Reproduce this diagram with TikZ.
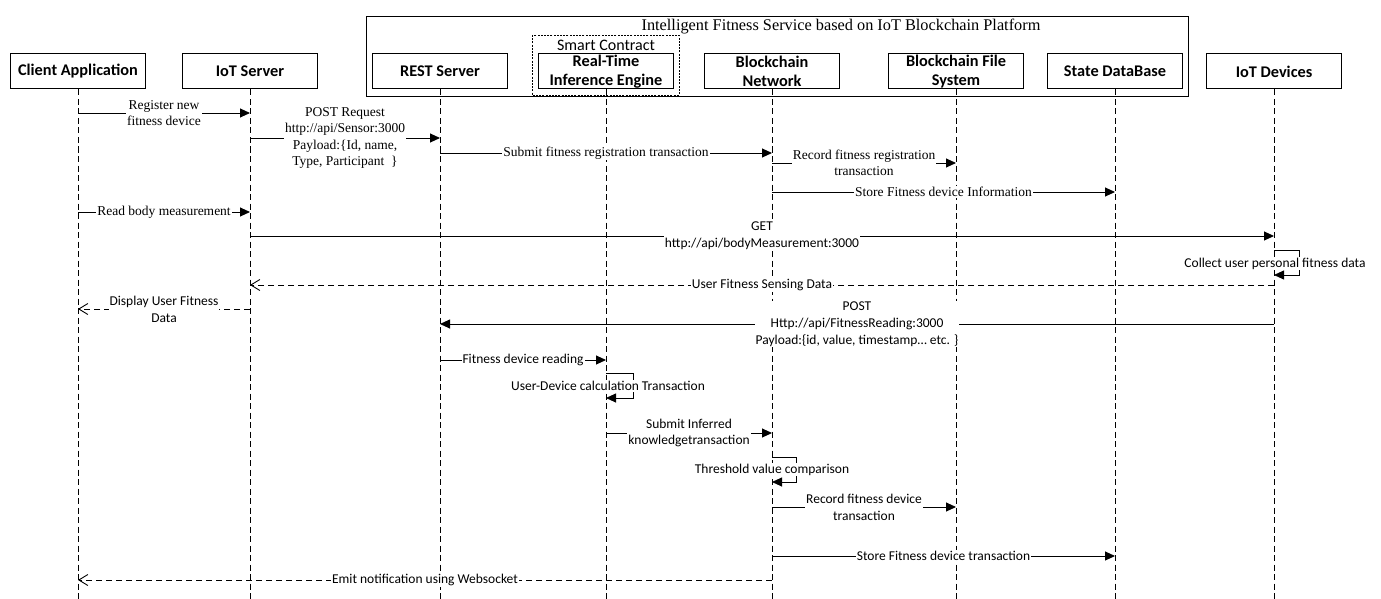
\documentclass[tikz,border=0pt]{standalone}
\usepackage{fontspec}
\setmainfont{Liberation Serif}
\newfontfamily\calibri{Carlito}
\usetikzlibrary{arrows.meta}
\begin{document}
\begin{tikzpicture}[x=1pt,y=-1pt,
  actor/.style={draw, line width=1pt, minimum width=135pt, minimum height=35pt,
    inner sep=0pt, align=center, font=\calibri\bfseries\fontsize{16.3}{18.5}\selectfont},
  lifeline/.style={line width=1pt, dash pattern=on 6pt off 3.5pt},
  msg/.style={line width=0.9pt, -{Triangle[length=10pt,width=9pt]}},
  reply/.style={line width=0.9pt, dash pattern=on 6pt off 4pt,
    -{Straight Barb[length=9pt,width=11pt,line width=0.9pt]}},
  serlab/.style={fill=white, inner sep=1pt, align=center,
    font=\fontsize{13.5}{16.4}\selectfont},
  sanlab/.style={fill=white, inner sep=1pt, align=center,
    font=\calibri\fontsize{13.5}{16.8}\selectfont},
]
\useasboundingbox (0,0) rectangle (1381,599);

% platform frame and smart contract group
\draw[line width=1pt] (366,17) rectangle (1188,97);
\node[font=\fontsize{16.3}{19}\selectfont] (title) at (841,27)
  {Intelligent Fitness Service based on IoT Blockchain Platform};
\draw[line width=0.8pt, dash pattern=on 2pt off 1.2pt] (532,35) rectangle (679,95);
\node[font=\calibri\fontsize{16}{19}\selectfont] (sc) at (606,45) {Smart Contract};

% participants
\node[actor] (ca)  at (78,71.5)   {Client Application};
\node[actor] (iot) at (250,71.5)  {IoT Server};
\node[actor] (rest) at (440,71.5) {REST Server};
\node[actor] (rte) at (606,71.5)  {Real-Time\\Inference Engine};
\node[actor] (bcn) at (772,71.5)  {Blockchain\\Network};
\node[actor] (bfs) at (956,71.5)  {Blockchain File\\System};
\node[actor] (sdb) at (1115,71.5) {State DataBase};
\node[actor] (dev) at (1274,71.5) {IoT Devices};

% lifelines
\foreach \p in {ca,iot,rest,rte,bcn,bfs,sdb,dev}
  \draw[lifeline] (\p.south) -- (\p.south |- 0,599);

% registration
\draw[msg] (ca |- 0,113) -- node[serlab]{Register new\\fitness device} (iot |- 0,113);
\draw[msg] (iot |- 0,138) -- node[serlab]{POST Request\\http://api/Sensor:3000\\Payload:\{Id, name,\\Type, Participant\ \ \}} (rest |- 0,138);
\draw[msg] (rest |- 0,153) -- node[serlab]{Submit fitness registration transaction} (bcn |- 0,153);
\draw[msg] (bcn |- 0,163) -- node[serlab]{Record fitness registration\\transaction} (bfs |- 0,163);
\draw[msg] (bcn |- 0,192) -- node[serlab]{Store Fitness device Information} (sdb |- 0,192);

% body measurement
\draw[msg] (ca |- 0,212) -- node[serlab]{Read body measurement} (iot |- 0,212);
\draw[msg] (iot |- 0,236) -- node[sanlab]{GET\\http://api/bodyMeasurement:3000} (dev |- 0,236);
\draw[msg] (dev |- 0,250) -- ++(25,0) -- ++(0,25) -- (dev |- 0,275);
\node[sanlab] (collect) at (1275,263.5) {Collect user personal fitness data};
\draw[reply] (dev |- 0,285) -- node[sanlab]{User Fitness Sensing Data} (iot |- 0,285);
\draw[reply] (iot |- 0,309) -- node[sanlab]{Display User Fitness\\Data} (ca |- 0,309);

% fitness reading
\draw[msg] (dev |- 0,324) -- node[sanlab]{POST\\Http://api/FitnessReading:3000\\Payload:\{id, value, timestamp… etc. \}} (rest |- 0,324);
\draw[msg] (rest |- 0,360) -- node[sanlab]{Fitness device reading} (rte |- 0,360);
\draw[msg] (rte |- 0,373) -- ++(27,0) -- ++(0,25) -- (rte |- 0,398);
\node[sanlab] (calc) at (608,386) {User-Device calculation Transaction};
\draw[msg] (rte |- 0,433) -- node[sanlab]{Submit Inferred\\knowledgetransaction} (bcn |- 0,433);
\draw[msg] (bcn |- 0,457) -- ++(24,0) -- ++(0,25) -- (bcn |- 0,482);
\node[sanlab] (thr) at (772,469.5) {Threshold value comparison};
\draw[msg] (bcn |- 0,507) -- node[sanlab]{Record fitness device\\transaction} (bfs |- 0,507);
\draw[msg] (bcn |- 0,556) -- node[sanlab]{Store Fitness device transaction} (sdb |- 0,556);
\draw[reply] (bcn |- 0,580) -- node[sanlab]{Emit notification using Websocket} (ca |- 0,580);
\end{tikzpicture}
\end{document}
